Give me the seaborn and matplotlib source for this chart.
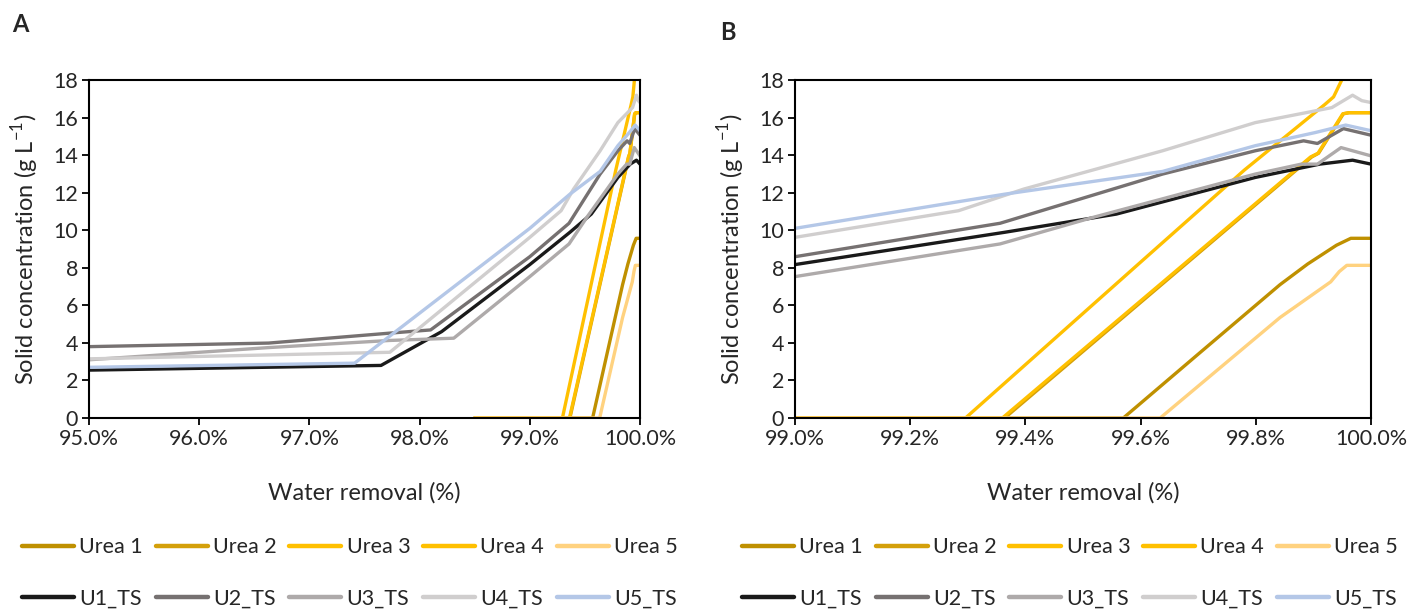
import numpy as np
import pandas as pd
import matplotlib
matplotlib.use("Agg")
import matplotlib.pyplot as plt
from matplotlib.lines import Line2D
from matplotlib.ticker import FuncFormatter, MultipleLocator
import seaborn as sns

# ---------------- data (water removal %, solid concentration g/L) ----------------
urea1_x = [98.5, 99.57, 99.70, 99.842, 99.89, 99.94, 99.965, 100.0]
urea1_y = [0.0, 0.0, 3.4, 7.1, 8.2, 9.2, 9.57, 9.57]
urea2_x = [98.5, 99.364, 99.897, 99.909, 99.952, 99.962, 100.0]
urea2_y = [0.0, 0.0, 13.9, 14.1, 16.2, 16.26, 16.26]
urea3_x = [98.5, 99.296, 99.60, 99.78, 99.92, 99.935, 99.965]
urea3_y = [0.0, 0.0, 8.3, 13.2, 16.7, 17.1, 19.0]
urea4_x = [98.5, 99.36, 99.895, 99.908, 99.951, 99.962, 100.0]
urea4_y = [0.0, 0.0, 13.9, 14.1, 16.2, 16.26, 16.26]
urea5_x = [98.5, 99.634, 99.842, 99.93, 99.945, 99.958, 100.0]
urea5_y = [0.0, 0.0, 5.35, 7.25, 7.8, 8.13, 8.13]

u1_x = [95.0, 97.65, 98.20, 99.0, 99.364, 99.558, 99.799, 99.911, 99.968, 100.0]
u1_y = [2.55, 2.80, 4.60, 8.17, 9.89, 10.86, 12.81, 13.52, 13.73, 13.52]
u2_x = [95.0, 96.63, 97.73, 98.10, 99.0, 99.356, 99.638, 99.799, 99.883, 99.907, 99.952, 100.0]
u2_y = [3.80, 3.99, 4.52, 4.69, 8.59, 10.37, 12.99, 14.23, 14.76, 14.62, 15.41, 15.06]
u3_x = [95.0, 96.63, 97.73, 98.31, 99.0, 99.356, 99.517, 99.799, 99.879, 99.907, 99.948, 100.0]
u3_y = [3.10, 3.75, 4.13, 4.25, 7.53, 9.27, 10.68, 12.99, 13.52, 13.52, 14.40, 13.96]
u4_x = [95.0, 97.73, 99.0, 99.284, 99.397, 99.638, 99.799, 99.932, 99.968, 99.984, 100.0]
u4_y = [3.15, 3.50, 9.62, 11.04, 12.19, 14.23, 15.73, 16.53, 17.19, 16.90, 16.80]
u5_x = [95.0, 97.41, 99.0, 99.364, 99.638, 99.799, 99.903, 99.956, 100.0]
u5_y = [2.70, 2.92, 10.10, 11.92, 13.13, 14.50, 15.20, 15.60, 15.30]

series_names = ["Urea 1", "Urea 2", "Urea 3", "Urea 4", "Urea 5",
                "U1_TS", "U2_TS", "U3_TS", "U4_TS", "U5_TS"]
series_x = [urea1_x, urea2_x, urea3_x, urea4_x, urea5_x, u1_x, u2_x, u3_x, u4_x, u5_x]
series_y = [urea1_y, urea2_y, urea3_y, urea4_y, urea5_y, u1_y, u2_y, u3_y, u4_y, u5_y]
colors = ["#BF9000", "#D4A00A", "#FFC000", "#FFC000", "#FFD27F",
          "#1A1A1A", "#767171", "#AEAAAA", "#D0CECE", "#B4C7E7"]

rows = []
for name, xs, ys in zip(series_names, series_x, series_y):
    for i, (xv, yv) in enumerate(zip(xs, ys)):
        rows.append({"series": name, "x": xv, "y": yv, "order": i})
df = pd.DataFrame(rows)
palette = dict(zip(series_names, colors))

# ---------------- figure ----------------
sns.set_theme(style="white")
plt.rcParams["font.family"] = ["Lato", "DejaVu Sans"]
fig = plt.figure(figsize=(14.25, 6.12), dpi=100)

axA = fig.add_axes([89/1425, 1-418/612, 551/1425, 338/612])
axB = fig.add_axes([795/1425, 1-418/612, 576/1425, 338/612])

LW = 2.4
for ax, (x0, x1), step in [(axA, (95.0, 100.0), 1.0), (axB, (99.0, 100.0), 0.2)]:
    sns.lineplot(data=df, x="x", y="y", hue="series", hue_order=series_names,
                 palette=palette, sort=False, estimator=None, units="series",
                 linewidth=LW, legend=False, ax=ax)
    ax.set_xlim(x0, x1)
    ax.set_ylim(0, 18)
    ax.xaxis.set_major_locator(MultipleLocator(step))
    ax.yaxis.set_major_locator(MultipleLocator(2))
    ax.xaxis.set_major_formatter(FuncFormatter(lambda v, p: f"{v:.1f}%"))
    ax.tick_params(axis="both", which="major", labelsize=15.5, direction="out",
                   length=5, width=1.3, color="black", bottom=True, left=True,
                   pad=3)
    for s in ax.spines.values():
        s.set_color("black")
        s.set_linewidth(1.5)
    ax.set_xlabel("Water removal (%)", fontsize=17, labelpad=24)
    ax.set_ylabel("Solid concentration (g L$^{\\mathregular{-1}}$)", fontsize=17, labelpad=9)

fig.text(12/1425, 1-25/612, "A", fontsize=17, fontweight="bold", va="center", ha="left")
fig.text(720/1425, 1-33/612, "B", fontsize=17, fontweight="bold", va="center", ha="left")

handles = [Line2D([0], [0], color=c, lw=3.2) for c in colors]
# matplotlib fills legend column by column: interleave so rows read Urea..., U_TS...
order = [0, 5, 1, 6, 2, 7, 3, 8, 4, 9]
h_ord = [handles[i] for i in order]
l_ord = [series_names[i] for i in order]
for cx in (350/1425, 1070/1425):
    fig.legend(h_ord, l_ord, loc="center", bbox_to_anchor=(cx, 1-573/612),
               ncol=5, frameon=False, fontsize=15.5, handlelength=2.4,
               handletextpad=0.25, columnspacing=0.6, labelspacing=1.45)

fig.savefig("out.png", dpi=100)
